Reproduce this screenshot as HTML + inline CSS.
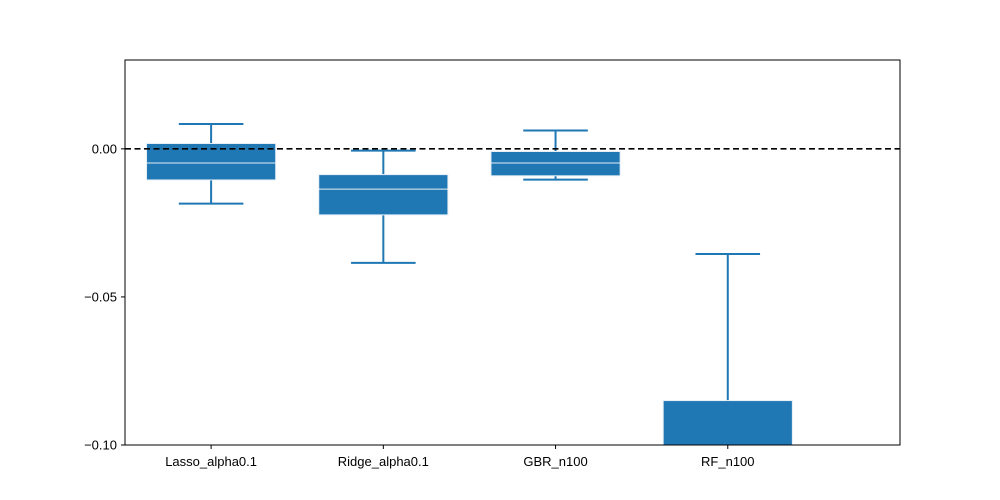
<!DOCTYPE html>
<html><head><meta charset="utf-8"><style>
html,body{margin:0;padding:0;background:#fff;width:1000px;height:500px;overflow:hidden;}
svg{display:block;}
svg text{font-family:"Liberation Sans","DejaVu Sans",sans-serif;font-size:13px;fill:#000;}
</style></head><body>
<svg id="chart" width="1000" height="500">
<rect x="0" y="0" width="1000" height="500" fill="#fff"/>
<g id="boxes"></g>
<g id="axes"></g>
</svg>
<script>
const categories = ["Lasso_alpha0.1","Ridge_alpha0.1","GBR_n100","RF_n100"];
const whiskerHigh = [0.0084, -0.0006, 0.0062, -0.0355];
const q3Values = [0.0018, -0.0087, -0.0009, -0.085];
const medianValues = [-0.0048, -0.0136, -0.0048, -0.11];
const q1Values = [-0.0105, -0.0223, -0.0091, -0.13];
const whiskerLow = [-0.0185, -0.0385, -0.0104, -0.16];
const yTicks = [0.00, -0.05, -0.10];
const yTickLabels = ["0.00", "\u22120.05", "\u22120.10"];

const L=125,R=900,T=60,B=445, yMin=-0.10, yMax=0.03, xMin=0.5, xMax=5.0;
const sx=v=>L+(v-xMin)/(xMax-xMin)*(R-L);
const sy=v=>B-(v-yMin)/(yMax-yMin)*(B-T);
const cy=v=>Math.max(T,Math.min(B,sy(v)));
const NS="http://www.w3.org/2000/svg";
function mk(tag,attrs,parent){const e=document.createElementNS(NS,tag);for(const k in attrs)e.setAttribute(k,attrs[k]);parent.appendChild(e);return e;}
const gB=document.getElementById('boxes'), gA=document.getElementById('axes');
const C="#1f77b4", boxW=0.75, capW=0.375;
function inRange(v){return v>=yMin && v<=yMax;}
categories.forEach((c,i)=>{
  const x=sx(i+1);
  const g=mk('g',{},gB);
  
  
  const hw=boxW/2*(R-L)/(xMax-xMin), cw=capW/2*(R-L)/(xMax-xMin);
  if(cy(whiskerHigh[i])!==cy(q3Values[i])) mk('line',{x1:x,x2:x,y1:cy(whiskerHigh[i]),y2:cy(q3Values[i]),stroke:C,'stroke-width':2},g);
  if(cy(q1Values[i])!==cy(whiskerLow[i])) mk('line',{x1:x,x2:x,y1:cy(q1Values[i]),y2:cy(whiskerLow[i]),stroke:C,'stroke-width':2},g);
  if(inRange(whiskerHigh[i])) mk('line',{x1:x-cw,x2:x+cw,y1:sy(whiskerHigh[i]),y2:sy(whiskerHigh[i]),stroke:C,'stroke-width':2},g);
  if(inRange(whiskerLow[i])) mk('line',{x1:x-cw,x2:x+cw,y1:sy(whiskerLow[i]),y2:sy(whiskerLow[i]),stroke:C,'stroke-width':2},g);
  const yt=cy(q3Values[i]), yb=cy(q1Values[i]);
  if(yb>yt) mk('rect',{x:x-hw,y:yt,width:2*hw,height:yb-yt,fill:C,stroke:"#e6eef6",'stroke-width':1},g);
  if(inRange(medianValues[i])) mk('line',{x1:x-hw,x2:x+hw,y1:sy(medianValues[i]),y2:sy(medianValues[i]),stroke:"#e6eef6",'stroke-width':1},g);
});
const zl=mk('line',{x1:L,x2:R,y1:sy(0),y2:sy(0),stroke:"#000",'stroke-width':1.6,'stroke-dasharray':'6,3.5'},gA);


const fr=mk('rect',{x:L,y:T,width:R-L,height:B-T,fill:'none',stroke:'#000','stroke-width':1},gA);


yTicks.forEach((v,i)=>{
  const y=sy(v);
  mk('line',{x1:L-4,x2:L,y1:y,y2:y,stroke:'#000'},gA);
  const t=mk('text',{x:L-8,y:y+4.5,'text-anchor':'end'},gA);
  t.textContent=yTickLabels[i];
  
  
});
categories.forEach((c,i)=>{
  const x=sx(i+1);
  mk('line',{x1:x,x2:x,y1:B,y2:B+4,stroke:'#000'},gA);
  const t=mk('text',{x:x,y:B+21,'text-anchor':'middle'},gA);
  t.textContent=c;
  
  
});
</script>
</body></html>
